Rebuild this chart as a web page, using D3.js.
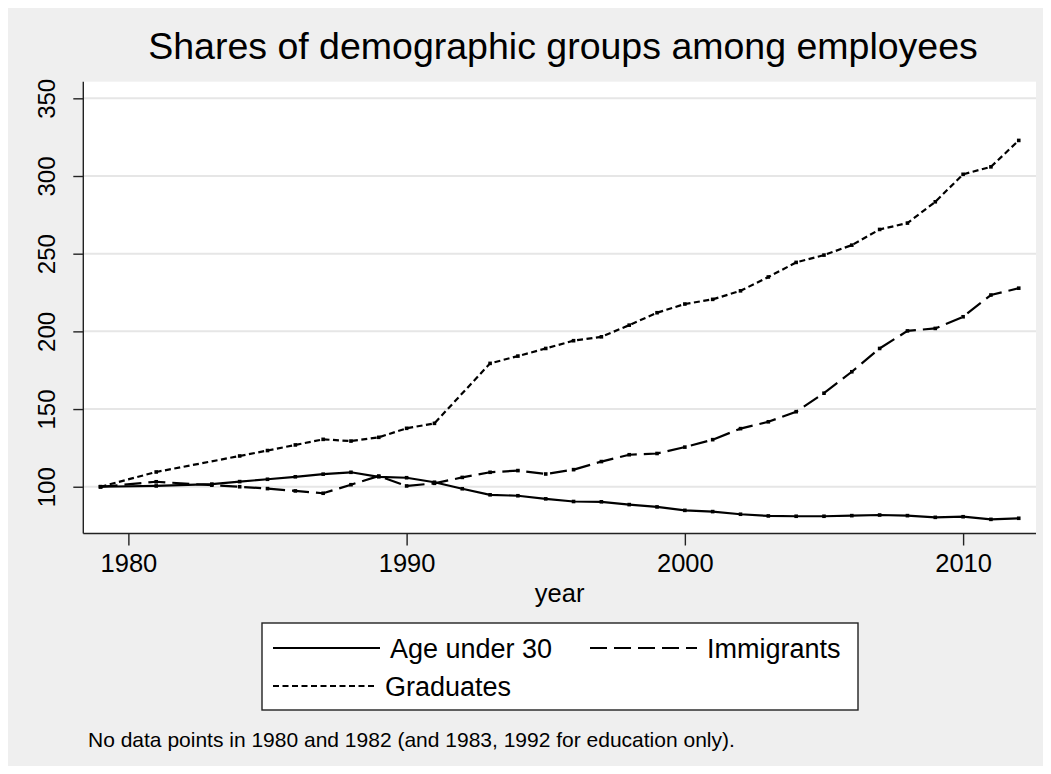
<!DOCTYPE html>
<html>
<head>
<meta charset="utf-8">
<script src="https://cdn.jsdelivr.net/npm/d3@7"></script>
<style>
  html, body { margin: 0; padding: 0; background: #ffffff; }
  svg { display: block; font-family: "Liberation Sans", Arial, Helvetica, sans-serif; }
</style>
</head>
<body>
<svg id="chart" width="1051" height="774"></svg>
<script>
// ---------------- data ----------------
const titleText = "Shares of demographic groups among employees";
const xAxisTitle = "year";
const noteText = "No data points in 1980 and 1982 (and 1983, 1992 for education only).";

const xTicks = [1980, 1990, 2000, 2010];
const yTicks = [100, 150, 200, 250, 300, 350];

const yearsAll = [1979, 1981, 1983, 1984, 1985, 1986, 1987, 1988, 1989, 1990, 1991, 1992,
  1993, 1994, 1995, 1996, 1997, 1998, 1999, 2000, 2001, 2002, 2003, 2004, 2005, 2006,
  2007, 2008, 2009, 2010, 2011, 2012];
const yearsEdu = [1979, 1981, 1984, 1985, 1986, 1987, 1988, 1989, 1990, 1991,
  1993, 1994, 1995, 1996, 1997, 1998, 1999, 2000, 2001, 2002, 2003, 2004, 2005, 2006,
  2007, 2008, 2009, 2010, 2011, 2012];

const ageUnder30 = [100, 100.5, 101.7, 103.3, 104.8, 106.4, 108.1, 109.3, 106.4, 105.8, 102.9, 98.7,
  94.8, 94.2, 92.2, 90.5, 90.3, 88.5, 87.0, 84.8, 84.0, 82.3, 81.2, 81.0, 81.0, 81.4,
  81.8, 81.4, 80.3, 80.7, 79.0, 79.7];
const immigrants = [100, 103.2, 101.0, 100.0, 98.8, 97.3, 95.8, 101.3, 106.9, 100.5, 102.2, 106.0,
  109.3, 110.4, 108.2, 111.0, 116.2, 120.6, 121.4, 125.5, 130.3, 137.4, 141.8, 148.3, 160.2, 174.0,
  189.0, 200.3, 201.9, 209.4, 223.4, 227.8];
const graduates = [100, 109.5, 119.8, 123.3, 126.9, 130.5, 129.4, 131.8, 137.6, 140.8,
  179.4, 184.1, 189.0, 194.0, 196.5, 204.0, 212.0, 217.6, 220.6, 226.1, 235.0, 244.4, 249.1, 255.5,
  265.6, 269.7, 283.4, 301.1, 305.9, 322.9];

const seriesNames = ["Age under 30", "Immigrants", "Graduates"];

// ---------------- layout ----------------
const svg = d3.select("#chart");
const W = 1051, H = 774;
const plot = { left: 83.3, right: 1036, top: 81.7, bottom: 533.5 };

const x = d3.scaleLinear().domain([1978.38, 2012.62]).range([plot.left, plot.right]);
const y = d3.scaleLinear().domain([69.9, 360.7]).range([plot.bottom, plot.top]);

const styles = [
  { dash: null, width: 2.2 },
  { dash: "17,7", width: 2.2 },
  { dash: "6,3.5", width: 2.2 }
];

// backgrounds
svg.append("rect").attr("x", 0).attr("y", 0).attr("width", W).attr("height", H).attr("fill", "#ffffff");
svg.append("rect").attr("x", 8).attr("y", 8).attr("width", W - 16).attr("height", H - 16).attr("fill", "#efefef");
svg.append("rect").attr("x", plot.left).attr("y", plot.top)
  .attr("width", plot.right - plot.left).attr("height", plot.bottom - plot.top).attr("fill", "#ffffff");

// gridlines
svg.append("g").selectAll("line").data(yTicks).join("line")
  .attr("x1", plot.left).attr("x2", plot.right)
  .attr("y1", d => y(d)).attr("y2", d => y(d))
  .attr("stroke", "#e6e6e6").attr("stroke-width", 2);

// title
svg.append("text").attr("x", 563).attr("y", 59).attr("text-anchor", "middle")
  .attr("font-size", 37.5).attr("fill", "#000").text(titleText);

// y axis
const yAxis = svg.append("g").attr("transform", `translate(${plot.left},0)`)
  .call(d3.axisLeft(y).tickValues(yTicks).tickSize(10).tickPadding(0).tickFormat(d3.format("d")));
yAxis.select(".domain").remove();
yAxis.append("line").attr("x1", 0).attr("x2", 0).attr("y1", plot.top).attr("y2", plot.bottom)
  .attr("stroke", "#222").attr("stroke-width", 1.4);
yAxis.selectAll(".tick line").attr("stroke", "#222").attr("stroke-width", 1.4);
yAxis.selectAll(".tick text")
  .attr("font-size", 24).attr("fill", "#000")
  .attr("text-anchor", "middle")
  .attr("transform", "translate(-28,0) rotate(-90)")
  .attr("x", 0).attr("dy", "0").attr("y", 0);

// x axis
const xAxis = svg.append("g").attr("transform", `translate(0,${plot.bottom})`)
  .call(d3.axisBottom(x).tickValues(xTicks).tickSize(12).tickPadding(8).tickFormat(d3.format("d")));
xAxis.select(".domain").remove();
xAxis.append("line").attr("x1", plot.left).attr("x2", plot.right).attr("y1", 0).attr("y2", 0)
  .attr("stroke", "#222").attr("stroke-width", 1.4);
xAxis.selectAll(".tick line").attr("stroke", "#222").attr("stroke-width", 1.4);
xAxis.selectAll(".tick text").attr("font-size", 25.5).attr("fill", "#000");

svg.append("text").attr("x", (plot.left + plot.right) / 2).attr("y", 602)
  .attr("text-anchor", "middle").attr("font-size", 25.5).attr("fill", "#000").text(xAxisTitle);

// series
const seriesData = [
  yearsAll.map((yr, i) => ({ year: yr, v: ageUnder30[i] })),
  yearsAll.map((yr, i) => ({ year: yr, v: immigrants[i] })),
  yearsEdu.map((yr, i) => ({ year: yr, v: graduates[i] }))
];
const line = d3.line().x(d => x(d.year)).y(d => y(d.v));
const gSeries = svg.append("g");
seriesData.forEach((data, k) => {
  gSeries.append("path").datum(data).attr("d", line)
    .attr("fill", "none").attr("stroke", "#000")
    .attr("stroke-width", styles[k].width)
    .attr("stroke-dasharray", styles[k].dash)
    .attr("stroke-linejoin", "miter");
  gSeries.append("g").selectAll("rect").data(data).join("rect")
    .attr("x", d => x(d.year) - 1.8).attr("y", d => y(d.v) - 1.8)
    .attr("width", 3.6).attr("height", 3.6).attr("fill", "#000");
});

// legend
const lg = svg.append("g");
lg.append("rect").attr("x", 262).attr("y", 623).attr("width", 596).attr("height", 87)
  .attr("fill", "#fff").attr("stroke", "#222").attr("stroke-width", 1.4);
const legendItems = [
  { name: seriesNames[0], k: 0, x0: 273, x1: 380, ty: 648 },
  { name: seriesNames[1], k: 1, x0: 590, x1: 697, ty: 648 },
  { name: seriesNames[2], k: 2, x0: 273, x1: 375, ty: 686 }
];
legendItems.forEach(it => {
  lg.append("line").attr("x1", it.x0).attr("x2", it.x1).attr("y1", it.ty).attr("y2", it.ty)
    .attr("stroke", "#000").attr("stroke-width", styles[it.k].width)
    .attr("stroke-dasharray", styles[it.k].dash);
  lg.append("text").attr("x", it.x1 + 10).attr("y", it.ty + 9.5).attr("font-size", 27)
    .attr("fill", "#000").text(it.name);
});

// note
svg.append("text").attr("x", 88).attr("y", 747).attr("font-size", 21).attr("fill", "#000").text(noteText);
</script>
</body>
</html>
